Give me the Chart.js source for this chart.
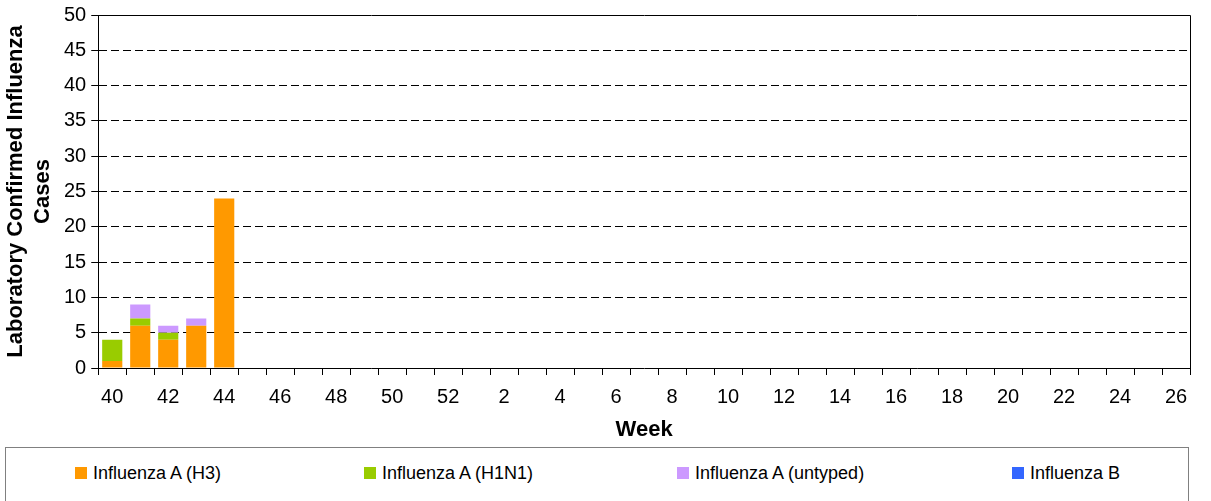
<!DOCTYPE html>
<html>
<head>
<meta charset="utf-8">
<script src="https://cdn.jsdelivr.net/npm/chart.js@4.4.1/dist/chart.umd.min.js"></script>
<style>
    body { margin: 0; background: #fff; font-family: "Liberation Sans", Arial, sans-serif; overflow: hidden; }
    #wrap { position: relative; width: 1211px; height: 501px; overflow: hidden; }
    #chartBox { position: absolute; left: 0; top: 0; width: 1211px; height: 446px; }
    #legend {
        position: absolute; left: 5px; top: 447px; width: 1184px; height: 70px;
        border: 1px solid #808080; box-sizing: border-box;
    }
    .legend-item {
        position: absolute; top: 14px; height: 22px; display: flex; align-items: center;
        font-family: "Liberation Sans", Arial, sans-serif;
        font-size: 18px; color: #000; white-space: nowrap;
    }
    .legend-item span.sw { display: inline-block; width: 12px; height: 12px; margin-right: 6px; }
    .legend-item:nth-child(1) { left: 69px; }
    .legend-item:nth-child(2) { left: 358px; }
    .legend-item:nth-child(3) { left: 671px; }
    .legend-item:nth-child(4) { left: 1006px; }
</style>
</head>
<body>
<div id="wrap">
    <div id="chartBox"><canvas id="fluChart"></canvas></div>
    <div id="legend"></div>
</div>
<script>
// Week numbers (season week 40 through week 26)
const weeks = [40, 41, 42, 43, 44, 45, 46, 47, 48, 49, 50, 51, 52,
    1, 2, 3, 4, 5, 6, 7, 8, 9, 10, 11, 12, 13, 14, 15, 16, 17, 18, 19, 20, 21, 22, 23, 24, 25, 26];

const fluAH3 = [1, 6, 4, 6, 24, null, null, null, null, null, null, null, null,
    null, null, null, null, null, null, null, null, null, null, null, null, null,
    null, null, null, null, null, null, null, null, null, null, null, null, null];
const fluAH1N1 = [3, 1, 1, 0, 0, null, null, null, null, null, null, null, null,
    null, null, null, null, null, null, null, null, null, null, null, null, null,
    null, null, null, null, null, null, null, null, null, null, null, null, null];
const fluAUntyped = [0, 2, 1, 1, 0, null, null, null, null, null, null, null, null,
    null, null, null, null, null, null, null, null, null, null, null, null, null,
    null, null, null, null, null, null, null, null, null, null, null, null, null];
const fluB = [0, 0, 0, 0, 0, null, null, null, null, null, null, null, null,
    null, null, null, null, null, null, null, null, null, null, null, null, null,
    null, null, null, null, null, null, null, null, null, null, null, null, null];

const seriesNames = ['Influenza A (H3)', 'Influenza A (H1N1)', 'Influenza A (untyped)', 'Influenza B'];
const seriesColors = ['#FF9900', '#99CC00', '#CC99FF', '#3366FF'];
const seriesData = [fluAH3, fluAH1N1, fluAUntyped, fluB];

const yTicks = [0, 5, 10, 15, 20, 25, 30, 35, 40, 45, 50];

// Draws the top and right edges of the plot area
const frameBox = {
    id: 'frameBox',
    afterDraw(chart) {
        const a = chart.chartArea;
        const ctx = chart.ctx;
        ctx.save();
        ctx.strokeStyle = '#000';
        ctx.lineWidth = 1;
        ctx.beginPath();
        ctx.moveTo(Math.round(a.left) + 0.5, Math.round(a.top) + 0.5);
        ctx.lineTo(Math.round(a.right) + 0.5, Math.round(a.top) + 0.5);
        ctx.lineTo(Math.round(a.right) + 0.5, Math.round(a.bottom) + 0.5);
        ctx.stroke();
        ctx.restore();
    }
};

const datasets = seriesNames.map((name, i) => ({
    label: name,
    data: seriesData[i],
    backgroundColor: seriesColors[i],
    borderWidth: 0,
    barPercentage: 0.72,
    categoryPercentage: 1.0
}));

const ctx = document.getElementById('fluChart').getContext('2d');
const fluChart = new Chart(ctx, {
    type: 'bar',
    data: { labels: weeks.map(String), datasets: datasets },
    plugins: [frameBox],
    options: {
        responsive: true,
        maintainAspectRatio: false,
        animation: false,
        layout: { padding: { left: 2, right: 21, top: 0, bottom: 5 } },
        plugins: {
            legend: { display: false },
            tooltip: { enabled: false }
        },
        scales: {
            x: {
                stacked: true,
                grid: {
                    offset: true,
                    drawOnChartArea: false,
                    color: '#000',
                    tickLength: 7
                },
                border: { color: '#000', width: 1 },
                ticks: {
                    autoSkip: false,
                    maxRotation: 0,
                    color: '#000',
                    font: { family: '"Liberation Sans", Arial', size: 20 },
                    padding: 10,
                    callback: function (val, index) {
                        return index % 2 === 0 ? this.getLabelForValue(val) : '';
                    }
                },
                title: {
                    display: true,
                    text: 'Week',
                    color: '#000',
                    font: { family: '"Liberation Sans", Arial', size: 22, weight: 'bold', lineHeight: 1.0 },
                    padding: { top: 0, bottom: 0 }
                }
            },
            y: {
                stacked: true,
                min: 0,
                max: 50,
                afterBuildTicks: (scale) => { scale.ticks = yTicks.map(v => ({ value: v })); },
                grid: {
                    color: (c) => (c.tick && (c.tick.value === 0 || c.tick.value === 50)) ? 'rgba(0,0,0,0)' : '#000',
                    tickColor: '#000',
                    tickLength: 7,
                    tickBorderDash: []
                },
                border: { color: '#000', width: 1, dash: [8, 4] },
                ticks: {
                    color: '#000',
                    font: { family: '"Liberation Sans", Arial', size: 20, lineHeight: 1.0 },
                    padding: 5
                },
                title: {
                    display: true,
                    text: ['Laboratory Confirmed Influenza', 'Cases'],
                    color: '#000',
                    font: { family: '"Liberation Sans", Arial', size: 22, weight: 'bold', lineHeight: 1.25 },
                    padding: { top: 0, bottom: 2 }
                }
            }
        }
    }
});

// HTML legend built from the series arrays
const legendDiv = document.getElementById('legend');
seriesNames.forEach((name, i) => {
    const item = document.createElement('div');
    item.className = 'legend-item';
    item.innerHTML = `<span class="sw" style="background:${seriesColors[i]}"></span>${name}`;
    legendDiv.appendChild(item);
});
</script>
</body>
</html>
